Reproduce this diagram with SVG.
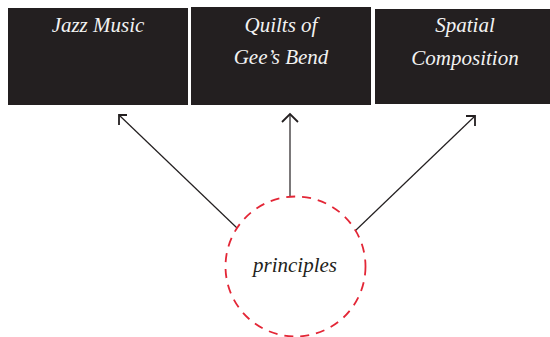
<svg xmlns="http://www.w3.org/2000/svg" width="550" height="337" viewBox="0 0 550 337">
<style>
.box{fill:#231f20}
.lbl{font-family:'Liberation Serif','Times New Roman','DejaVu Serif',serif;font-style:italic;font-size:21px;fill:#f2f2f2;text-anchor:middle}
.dark{fill:#231f20}
.conn{stroke:#231f20;stroke-width:1.2;fill:none}
.head{stroke:#231f20;stroke-width:1.8;fill:none}
.ring{fill:none;stroke:#e32636;stroke-width:1.8;stroke-dasharray:9 7}
</style>
<rect width="550" height="337" fill="#ffffff"/>
<g id="jazz">
<rect class="box" x="8" y="8" width="180" height="97"/>
<text class="lbl" x="98" y="32" font-family="Liberation Serif">Jazz Music</text>
</g>
<g id="quilts">
<rect class="box" x="191" y="7" width="180" height="98"/>
<text class="lbl" x="281" y="32" font-family="Liberation Serif">Quilts of</text>
<text class="lbl" x="281" y="64" font-family="Liberation Serif">Gee’s Bend</text>
</g>
<g id="spatial">
<rect class="box" x="375" y="9" width="175" height="95"/>
<text class="lbl" x="465" y="32" font-family="Liberation Serif">Spatial</text>
<text class="lbl" x="465" y="65" font-family="Liberation Serif">Composition</text>
</g>
<g id="connectors">
<line class="conn" x1="237" y1="228" x2="119" y2="115"/>
<polyline class="head" points="127,115 119,115 119,125"/>
<line class="conn" x1="290" y1="197" x2="290" y2="114"/>
<polyline class="head" points="282,122 290,114 298,122"/>
<line class="conn" x1="355" y1="231" x2="475" y2="116"/>
<polyline class="head" points="466,116 475,116 475,126"/>
</g>
<g id="principles">
<circle class="ring" cx="295.5" cy="266.5" r="70"/>
<text class="lbl dark" x="295" y="272" font-family="Liberation Serif">principles</text>
</g>
</svg>
